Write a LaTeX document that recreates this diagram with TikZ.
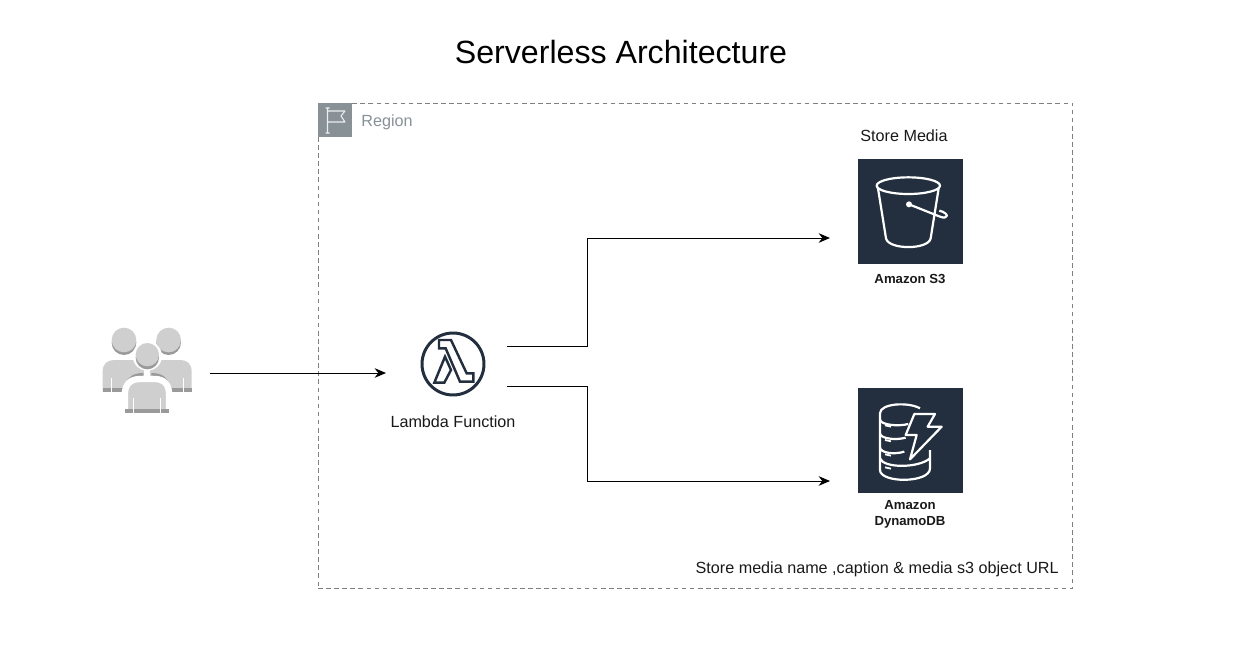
\documentclass[tikz,border=0pt]{standalone}
\usepackage{fontspec}
\setmainfont{Liberation Sans}
\usetikzlibrary{arrows.meta}
\definecolor{awsDark}{HTML}{232F3E}
\definecolor{regionGrey}{HTML}{879196}
\definecolor{userLight}{HTML}{CFCFCF}
\definecolor{userDark}{HTML}{9A9A9A}
\tikzset{
  arrowline/.style={-{Stealth[length=6.5pt,width=5.5pt]},line width=0.55pt,black},
  servicebox/.style={fill=awsDark,minimum width=2.1cm,minimum height=2.1cm,inner sep=0pt},
  iconline/.style={draw=white,line width=1.25pt,line join=round},
  smalllabel/.style={font=\bfseries\fontsize{7.5}{9}\selectfont,align=center,text=black!90},
  textlabel/.style={font=\fontsize{9.2}{11}\selectfont,text=black!90}
}

\begin{document}
\begin{tikzpicture}[x=0.02cm,y=-0.02cm]
  \useasboundingbox (0,0) rectangle (1234,659);

  \node[font=\fontsize{18.3}{22}\selectfont] (title) at (621,52) {Serverless Architecture};

  \node[draw=black!50,dash pattern=on 2.6pt off 2pt,line width=0.5pt,minimum width=15.1cm,minimum height=9.7cm,inner sep=0pt] (region) at (695.5,345.5) {};
  \node[fill=regionGrey,minimum width=0.68cm,minimum height=0.68cm,inner sep=0pt] (flagbox) at (335,120) {};
  \node[textlabel,text=regionGrey,anchor=west,inner sep=0pt] (regionlabel) at (361,122) {Region};
  \draw[white!85!regionGrey,line width=0.6pt,line join=round] (327.5,133) -- (327.5,108) (325.5,108) -- (329.5,108)
    (327.5,111) -- (345,111) -- (341,116) -- (345,122) -- (327.5,122) (325.5,133) -- (329.5,133);

  % users
  \begin{scope}[shift={(90,310)},scale=1/3]
    \foreach \hx/\bx in {102/38,236/170} {
      \fill[userDark] (\hx,98) circle (37);
      \fill[userLight] (\hx,90) circle (37);
      \fill[userLight] (\bx,245) -- (\bx,185) .. controls (\bx,160) and (\bx+15,150) .. (\bx+35,150)
        -- (\bx+100,150) .. controls (\bx+120,150) and (\bx+135,160) .. (\bx+135,185) -- (\bx+135,245) -- cycle;
      \fill[userDark] (\bx,234) rectangle (\bx+135,245);
    }
    \foreach \sx in {63,279} \fill[white] (\sx-1.5,205) rectangle (\sx+1.5,245);
    \draw[userDark,line width=1.5pt] (110,224) .. controls (116,205) and (130,193) .. (160,193);
    \draw[userDark,line width=1.5pt] (184,193) .. controls (215,193) and (228,205) .. (234,224);
    \fill[white] (163,170) rectangle (181,207);
    \fill[userLight,draw=white,line width=3.6pt] (105,310) -- (105,250) .. controls (105,225) and (120,207) .. (150,207)
      -- (195,207) .. controls (222,207) and (237,225) .. (237,250) -- (237,310) -- cycle;
    \fill[userDark] (105,298) rectangle (237,310);
    \foreach \sx in {131,211} \fill[white] (\sx-1.5,265) rectangle (\sx+1.5,310);
    \fill[white] (172,138) circle (44);
    \fill[userDark] (172,143) circle (35);
    \fill[userLight] (172,134) circle (35);
  \end{scope}
  \coordinate (usersOut) at (210,373);

  % lambda
  \node[circle,draw=awsDark,line width=1.7pt,minimum size=1.24cm,inner sep=0pt] (lambda) at (453,364) {};
  \begin{scope}[shift={(425,335)},scale=1/3]
    \draw[awsDark,line width=1.4pt,line join=miter]
      (42,15) -- (78,15) -- (125,115) -- (145,115) -- (145,140) -- (105,140) -- (62,40) -- (42,40) -- cycle
      (60,65) -- (78,105) -- (58,143) -- (28,143) -- cycle;
  \end{scope}
  \node[textlabel] (lambdalabel) at (453,422) {Lambda Function};
  \coordinate (lambdaIn) at (386,373);
  \coordinate (lambdaTop) at (507,346);
  \coordinate (lambdaBot) at (507,386);

  % s3
  \node[textlabel] (s3title) at (904,136) {Store Media};
  \node[servicebox] (s3) at (910.5,211.5) {};
  \begin{scope}[shift={(850,150)},scale=1/3]
    \draw[iconline] (175,107) ellipse (95 and 25);
    \draw[iconline] (84,115) -- (108,265) .. controls (115,300) and (235,300) .. (242,265) -- (266,115);
    \draw[iconline] (177,163) -- (270,200) .. controls (295,210) and (300,190) .. (268,182);
    \fill[white] (177,163) circle (9);
  \end{scope}
  \node[smalllabel] (s3label) at (910,279) {Amazon S3};
  \coordinate (s3In) at (830,238);

  % dynamodb
  \node[servicebox] (dynamo) at (910.5,440.5) {};
  \begin{scope}[shift={(875,400)},scale=1/3]
    \draw[iconline] (135,25) .. controls (100,5) and (15,10) .. (15,40) -- (15,210)
      .. controls (15,250) and (165,250) .. (165,205) -- (165,150);
    \draw[iconline] (15,58) .. controls (15,75) and (70,80) .. (100,72);
    \draw[iconline] (15,100) .. controls (15,115) and (60,122) .. (92,113);
    \draw[iconline] (15,142) .. controls (15,158) and (55,165) .. (88,155);
    \draw[iconline] (15,175) .. controls (25,205) and (130,205) .. (165,175);
    \foreach \ry in {76,120,163,202} \draw[white,line width=1pt] (30,\ry) -- (48,\ry+4);
    \fill[awsDark] (118,42) -- (180,42) -- (158,80) -- (200,80) -- (105,178) -- (125,105) -- (92,105) -- cycle;
    \draw[iconline] (118,42) -- (180,42) -- (158,80) -- (200,80) -- (105,178) -- (125,105) -- (92,105) -- cycle;
  \end{scope}
  \node[smalllabel,inner sep=0pt] (dynamolabel) at (910,514) {Amazon\\DynamoDB};
  \coordinate (dynamoIn) at (830,481);

  \node[textlabel,anchor=east,inner sep=0pt] (storelabel) at (1059,569) {Store media name ,caption \& media s3 object URL};

  \draw[arrowline] (usersOut) -- (lambdaIn);
  \draw[arrowline] (lambdaTop) -- ++(80,0) |- (s3In);
  \draw[arrowline] (lambdaBot) -- ++(80,0) |- (dynamoIn);
\end{tikzpicture}
\end{document}
